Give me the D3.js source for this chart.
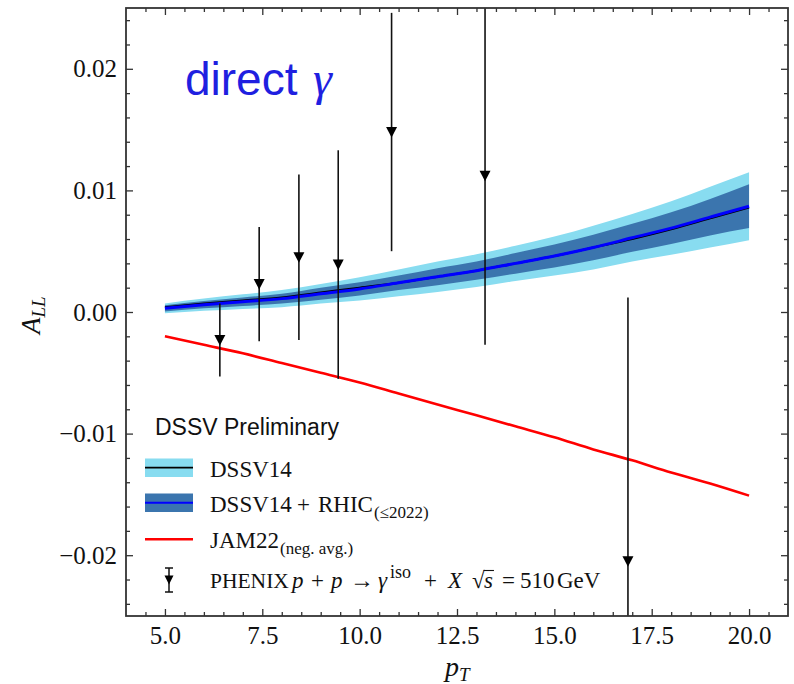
<!DOCTYPE html>
<html>
<head>
<meta charset="utf-8">
<script src="https://cdn.jsdelivr.net/npm/d3@7"></script>
<style>
  html, body { margin: 0; padding: 0; background: #fff; }
  svg { display: block; }
</style>
</head>
<body>
<svg id="chart" width="794" height="684"></svg>
<script>
// ---------------- data ----------------
const pT = [5, 6, 7, 8, 9, 10, 11, 12, 13, 14, 15, 16, 17, 18, 19, 20];
const dssv14Central = [0.0004, 0.0007, 0.00095, 0.0012, 0.0016, 0.0020, 0.0024, 0.0029, 0.0034, 0.0040, 0.0046, 0.0053, 0.0060, 0.0068, 0.0077, 0.0086];
const dssv14Low  = [-0.0001, 0.0001, 0.00025, 0.0004, 0.0007, 0.00095, 0.0013, 0.00165, 0.00205, 0.00255, 0.0030, 0.0035, 0.00415, 0.0047, 0.0053, 0.0059];
const dssv14High = [0.0007, 0.0011, 0.00145, 0.0018, 0.0023, 0.00285, 0.0035, 0.00415, 0.00475, 0.00545, 0.0062, 0.0071, 0.00805, 0.0091, 0.0103, 0.0115];
const rhicCentral = [0.0003, 0.0006, 0.00085, 0.0011, 0.0015, 0.0019, 0.0024, 0.0029, 0.0034, 0.0040, 0.0046, 0.0053, 0.0061, 0.0069, 0.0078, 0.0087];
const rhicLow  = [0.00005, 0.0003, 0.0005, 0.0007, 0.0010, 0.00135, 0.0018, 0.0022, 0.00265, 0.00315, 0.00365, 0.00425, 0.00495, 0.0056, 0.0063, 0.0069];
const rhicHigh = [0.00055, 0.0009, 0.0012, 0.0015, 0.0020, 0.00245, 0.0030, 0.0036, 0.00415, 0.00485, 0.00555, 0.00635, 0.00725, 0.0082, 0.0093, 0.0105];
const jam22 = [-0.0020, -0.0027, -0.0034, -0.0042, -0.0050, -0.0058, -0.0067, -0.0076, -0.0085, -0.0094, -0.0103, -0.0113, -0.0122, -0.0132, -0.0141, -0.0151];

const phenixPt  = [6.41, 7.42, 8.44, 9.45, 10.82, 13.22, 16.89];
const phenixAll = [-0.0023, 0.0023, 0.0045, 0.0039, 0.0148, 0.0112, -0.0205];
const phenixErr = [0.0030, 0.0047, 0.0068, 0.0094, 0.0098, 0.0139, 0.0217];

const xTicks = [5, 7.5, 10, 12.5, 15, 17.5, 20];
const xTickLabels = ["5.0", "7.5", "10.0", "12.5", "15.0", "17.5", "20.0"];
const yTicks = [-0.02, -0.01, 0, 0.01, 0.02];
const yTickLabels = ["\u22120.02", "\u22120.01", "0.00", "0.01", "0.02"];

// ---------------- layout ----------------
const L = 126, R = 788, T = 8, B = 616;
const serif = "'Liberation Serif', 'Times New Roman', serif";
const sans = "'Liberation Sans', Arial, Helvetica, sans-serif";
const col = { light: "#88dcf0", dark: "#3b75ae", blue: "#0000ff", red: "#ff0000", frame: "#333333" };

const svg = d3.select("#chart");
const x = d3.scaleLinear().domain([4, 21]).range([L, R]);
const y = d3.scaleLinear().domain([-0.025, 0.025]).range([B, T]);

svg.append("defs").append("clipPath").attr("id", "clip")
  .append("rect").attr("x", L).attr("y", T).attr("width", R - L).attr("height", B - T);

const plot = svg.append("g").attr("clip-path", "url(#clip)");
const idx = d3.range(pT.length);

// bands
const areaOf = (lo, hi) => d3.area().x(i => x(pT[i])).y0(i => y(lo[i])).y1(i => y(hi[i])).curve(d3.curveMonotoneX);
plot.append("path").datum(idx).attr("d", areaOf(dssv14Low, dssv14High)).attr("fill", col.light);
plot.append("path").datum(idx).attr("d", areaOf(rhicLow, rhicHigh)).attr("fill", col.dark);

const lineOf = arr => d3.line().x(i => x(pT[i])).y(i => y(arr[i])).curve(d3.curveMonotoneX);
plot.append("path").datum(idx).attr("d", lineOf(dssv14Central)).attr("fill", "none").attr("stroke", "#000").attr("stroke-width", 2);
plot.append("path").datum(idx).attr("d", lineOf(rhicCentral)).attr("fill", "none").attr("stroke", col.blue).attr("stroke-width", 3);
plot.append("path").datum(idx).attr("d", lineOf(jam22)).attr("fill", "none").attr("stroke", col.red).attr("stroke-width", 2.6);

// PHENIX points
const pts = plot.append("g");
phenixPt.forEach((p, i) => {
  const cx = x(p);
  pts.append("line").attr("x1", cx).attr("x2", cx)
    .attr("y1", y(phenixAll[i] + phenixErr[i])).attr("y2", y(phenixAll[i] - phenixErr[i]))
    .attr("stroke", "#111").attr("stroke-width", 1.6);
  const cy = y(phenixAll[i]);
  pts.append("path").attr("d", `M${cx - 5.5},${cy - 5} L${cx + 5.5},${cy - 5} L${cx},${cy + 5.5} Z`).attr("fill", "#000");
});

// ---------------- axes ----------------
const xMinor = d3.range(4.5, 21, 0.5).filter(v => !xTicks.some(t => Math.abs(t - v) < 1e-9));
const yMinor = d3.range(-24, 25, 2).map(v => v / 1000).filter(v => !yTicks.some(t => Math.abs(t - v) < 1e-9));

function styleAxis(g) {
  g.select(".domain").remove();
  g.selectAll(".tick line").attr("stroke", col.frame).attr("stroke-width", 1.3);
}
// bottom
svg.append("g").attr("transform", `translate(0,${B})`)
  .call(d3.axisBottom(x).tickValues(xTicks).tickSize(-7).tickPadding(10).tickFormat((d, i) => xTickLabels[i]))
  .call(styleAxis)
  .call(g => g.selectAll("text").attr("font-family", serif).attr("font-size", 25).attr("fill", "#111"));
svg.append("g").attr("transform", `translate(0,${B})`)
  .call(d3.axisBottom(x).tickValues(xMinor).tickSize(-4).tickFormat(""))
  .call(styleAxis);
// top
svg.append("g").attr("transform", `translate(0,${T})`)
  .call(d3.axisTop(x).tickValues(xTicks).tickSize(-7).tickFormat(""))
  .call(styleAxis);
svg.append("g").attr("transform", `translate(0,${T})`)
  .call(d3.axisTop(x).tickValues(xMinor).tickSize(-4).tickFormat(""))
  .call(styleAxis);
// left
svg.append("g").attr("transform", `translate(${L},0)`)
  .call(d3.axisLeft(y).tickValues(yTicks).tickSize(-7).tickPadding(9).tickFormat((d, i) => yTickLabels[i]))
  .call(styleAxis)
  .call(g => g.selectAll("text").attr("font-family", serif).attr("font-size", 25).attr("fill", "#111"));
svg.append("g").attr("transform", `translate(${L},0)`)
  .call(d3.axisLeft(y).tickValues(yMinor).tickSize(-4).tickFormat(""))
  .call(styleAxis);
// right
svg.append("g").attr("transform", `translate(${R},0)`)
  .call(d3.axisRight(y).tickValues(yTicks).tickSize(-7).tickFormat(""))
  .call(styleAxis);
svg.append("g").attr("transform", `translate(${R},0)`)
  .call(d3.axisRight(y).tickValues(yMinor).tickSize(-4).tickFormat(""))
  .call(styleAxis);

// frame
svg.append("rect").attr("x", L).attr("y", T).attr("width", R - L).attr("height", B - T)
  .attr("fill", "none").attr("stroke", col.frame).attr("stroke-width", 1.8);

// ---------------- rich text helper: one <text>, one <tspan> per segment ----------------
function rich(parent, x0, y0, segs, base) {
  base = base || {};
  const text = parent.append("text")
    .attr("font-family", base.family || serif).attr("font-size", base.size || 23)
    .attr("fill", base.fill || "#111");
  let cx = x0;
  const out = [];
  segs.forEach(s => {
    if (s.at !== undefined) cx = s.at;
    cx += (s.pre || 0);
    const ts = text.append("tspan").attr("x", cx).attr("y", y0 + (s.dy || 0))
      .attr("font-style", s.italic ? "italic" : "normal").text(s.t);
    if (s.size) ts.attr("font-size", s.size);
    if (s.family) ts.attr("font-family", s.family);
    const w = ts.node().getComputedTextLength();
    out.push({ x: cx, w: w });
    cx += w + (s.post || 0);
  });
  return out;
}

// axis labels
const yl = svg.append("g").attr("transform", "translate(40,312) rotate(-90)");
rich(yl, -22, 0, [
  { t: "A", italic: true, size: 27 },
  { t: "LL", italic: true, size: 19, dy: 5 }
]);
rich(svg, 445, 676, [
  { t: "p", italic: true, size: 28 },
  { t: "T", italic: true, size: 19, dy: 5 }
]);

// title
rich(svg, 185, 95, [
  { t: "direct", family: sans, size: 46 },
  { t: "\u03b3", italic: true, size: 48, at: 313 }
], { fill: "#1f1fe0" });

// ---------------- legend ----------------
const lg = svg.append("g");
lg.append("text").attr("x", 155).attr("y", 435).attr("font-family", sans).attr("font-size", 23)
  .attr("fill", "#111").text("DSSV Preliminary");

const hx0 = 145, hx1 = 193, tx = 210;
// DSSV14
lg.append("rect").attr("x", hx0).attr("y", 458.5).attr("width", hx1 - hx0).attr("height", 18.5).attr("fill", col.light);
lg.append("line").attr("x1", hx0).attr("x2", hx1).attr("y1", 467.7).attr("y2", 467.7).attr("stroke", "#000").attr("stroke-width", 1.8);
rich(lg, tx, 476.5, [{ t: "DSSV14" }]);
// RHIC
lg.append("rect").attr("x", hx0).attr("y", 493.5).attr("width", hx1 - hx0).attr("height", 18.5).attr("fill", col.dark);
lg.append("line").attr("x1", hx0).attr("x2", hx1).attr("y1", 502.8).attr("y2", 502.8).attr("stroke", col.blue).attr("stroke-width", 2);
rich(lg, tx, 511.5, [
  { t: "DSSV14" },
  { t: "+", at: 297 },
  { t: "RHIC", at: 318 },
  { t: "(\u22642022)", size: 17, dy: 6, pre: 1 }
]);
// JAM22
lg.append("line").attr("x1", hx0).attr("x2", hx1).attr("y1", 539.3).attr("y2", 539.3).attr("stroke", col.red).attr("stroke-width", 2.6);
rich(lg, tx, 547.5, [
  { t: "JAM22" },
  { t: "(neg. avg.)", size: 17, dy: 6, pre: 1 }
]);
// PHENIX
const mx = 169, my = 580;
lg.append("line").attr("x1", mx).attr("x2", mx).attr("y1", 568).attr("y2", 592).attr("stroke", "#111").attr("stroke-width", 1.5);
lg.append("line").attr("x1", mx - 4).attr("x2", mx + 4).attr("y1", 568).attr("y2", 568).attr("stroke", "#111").attr("stroke-width", 1.5);
lg.append("line").attr("x1", mx - 4).attr("x2", mx + 4).attr("y1", 592).attr("y2", 592).attr("stroke", "#111").attr("stroke-width", 1.5);
lg.append("path").attr("d", `M${mx - 4.5},${my - 4.5} L${mx + 4.5},${my - 4.5} L${mx},${my + 4.5} Z`).attr("fill", "#000");
const ph = rich(lg, tx, 588, [
  { t: "PHENIX", size: 21.5 },
  { t: "p", italic: true, at: 292 },
  { t: "+", at: 311 },
  { t: "p", italic: true, at: 331 },
  { t: "\u2192", at: 350, size: 24 },
  { t: "\u03b3", italic: true, at: 378 },
  { t: "iso", size: 18, dy: -10, at: 390 },
  { t: "+", at: 424 },
  { t: "X", italic: true, at: 448 },
  { t: "\u221a", at: 472 },
  { t: "s", italic: true, at: 484 },
  { t: "=", at: 502 },
  { t: "510", at: 520 },
  { t: "GeV", at: 557 }
]);
// radical overbar
const sSeg = ph[10], rad = ph[9];
lg.append("line").attr("x1", rad.x + rad.w - 1).attr("x2", sSeg.x + sSeg.w + 1)
  .attr("y1", 570.5).attr("y2", 570.5).attr("stroke", "#111").attr("stroke-width", 1.1);
</script>
</body>
</html>
